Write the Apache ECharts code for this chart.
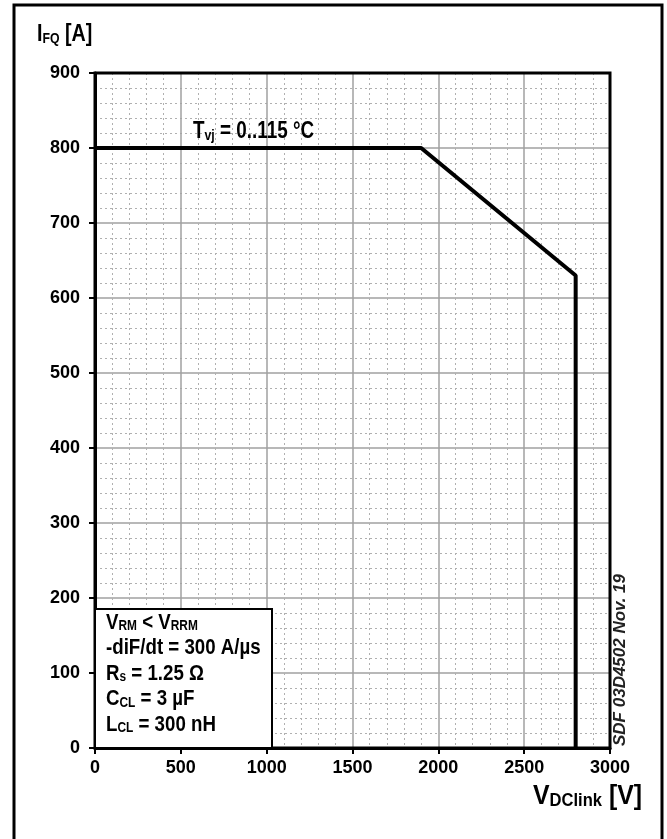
<!DOCTYPE html>
<html>
<head>
<meta charset="utf-8">
<script src="https://cdn.jsdelivr.net/npm/echarts@6/dist/echarts.min.js"></script>
<style>
  html, body { margin: 0; padding: 0; background: #fff; }
  #chart { width: 667px; height: 839px; }
</style>
</head>
<body>
<div id="chart"></div>
<script>
// safe operating area curve
const voltage = [0, 1900, 2800, 2800]
const current = [800, 800, 630, 0]
const xTicks = [0, 500, 1000, 1500, 2000, 2500, 3000]
const yTicks = [0, 100, 200, 300, 400, 500, 600, 700, 800, 900]

const FONT = "'Liberation Sans', Arial, sans-serif"

const chart = echarts.init(document.getElementById('chart'))

// rich text token; a smaller line height drops subscripts below the baseline
const mk = (size, lh) => ({ fontFamily: FONT, fontWeight: 'bold', fontSize: size, color: '#000', verticalAlign: 'bottom', lineHeight: lh })

// legend box lines
const boxLines = [
  '{m|V}{s|RM}{m| < V}{s|RRM}',
  '{m|-diF/dt = 300 A/µs}',
  '{m|R}{s|s}{m| = 1.25 Ω}',
  '{m|C}{s|CL}{m| = 3 µF}',
  '{m|L}{s|CL}{m| = 300 nH}'
]

const G = { left: 95, top: 73, width: 515, height: 675 }

chart.setOption({
  animation: false,
  backgroundColor: '#fff',
  grid: Object.assign({ show: false }, G),
  xAxis: {
    type: 'value', min: 0, max: 3000, interval: 500,
    axisLine: { show: true, lineStyle: { color: '#000', width: 3 } },
    axisTick: { show: true, length: 6, lineStyle: { color: '#000', width: 2 } },
    axisLabel: {
      margin: 11, fontFamily: FONT, fontWeight: 'bold', fontSize: 18, color: '#000',
      formatter: v => xTicks.includes(v) ? String(v) : ''
    },
    splitLine: { show: true, lineStyle: { color: '#a0a0a0', width: 1.5 } },
    minorTick: { show: false, splitNumber: 5 },
    minorSplitLine: { show: true, lineStyle: { color: '#b0b0b0', width: 1, type: [2, 3] } }
  },
  yAxis: {
    type: 'value', min: 0, max: 900, interval: 100,
    axisLine: { show: true, lineStyle: { color: '#000', width: 3 } },
    axisTick: { show: true, length: 6, lineStyle: { color: '#000', width: 2 } },
    axisLabel: {
      margin: 15, fontFamily: FONT, fontWeight: 'bold', fontSize: 18, color: '#000',
      formatter: v => yTicks.includes(v) ? String(v) : ''
    },
    splitLine: { show: true, lineStyle: { color: '#a0a0a0', width: 1.5 } },
    minorTick: { show: false, splitNumber: 5 },
    minorSplitLine: { show: true, lineStyle: { color: '#b0b0b0', width: 1, type: [2, 3] } }
  },
  series: [{
    type: 'line',
    data: voltage.map((v, i) => [v, current[i]]),
    showSymbol: false,
    lineStyle: { color: '#000', width: 4 },
    z: 5
  }],
  graphic: [
    // outer frame
    {
      type: 'rect', shape: { x: 14, y: 5, width: 648, height: 850 },
      style: { fill: 'none', stroke: '#000', lineWidth: 3 }, silent: true, z: 0
    },
    // plot frame on top of the grid lines
    {
      type: 'rect', shape: { x: G.left, y: G.top, width: G.width, height: G.height },
      style: { fill: 'none', stroke: '#000', lineWidth: 3 }, silent: true, z: 8
    },
    // y axis title
    {
      type: 'text', x: 37, y: 16, scaleX: 0.82, z: 10,
      style: {
        text: '{m|I}{s|FQ}{m| [A]}',
        rich: { m: mk(24, 30), s: mk(15, 20) }
      }
    },
    // x axis title
    {
      type: 'text', x: 533, y: 778, scaleX: 0.92, z: 10,
      style: {
        text: '{m|V}{s|DClink}{m| [V]}',
        rich: { m: mk(27, 32), s: mk(18, 22) }
      }
    },
    // temperature label
    {
      type: 'text', x: 193, y: 114, scaleX: 0.82, z: 10,
      style: {
        text: '{m|T}{s|vj}{m| = 0..115 °C}',
        rich: { m: mk(23, 29), s: mk(15, 19) }
      }
    },
    // legend box
    {
      type: 'rect', shape: { x: 95, y: 609, width: 177, height: 139 },
      style: { fill: '#fff', stroke: '#000', lineWidth: 2 }, z: 20
    },
    {
      type: 'text', x: 106, y: 608, scaleX: 0.85, z: 21,
      style: {
        text: boxLines.join('\n'),
        rich: { m: mk(22, 25.5), s: mk(14, 16) }
      }
    },
    // document code
    {
      type: 'text', x: 612, y: 746, rotation: Math.PI / 2, z: 10,
      style: {
        text: 'SDF 03D4502 Nov. 19',
        fontFamily: FONT,
        fontStyle: 'italic', fontWeight: 'bold', fontSize: 17, fill: '#222',
        textVerticalAlign: 'top'
      }
    }
  ]
})
</script>
</body>
</html>
